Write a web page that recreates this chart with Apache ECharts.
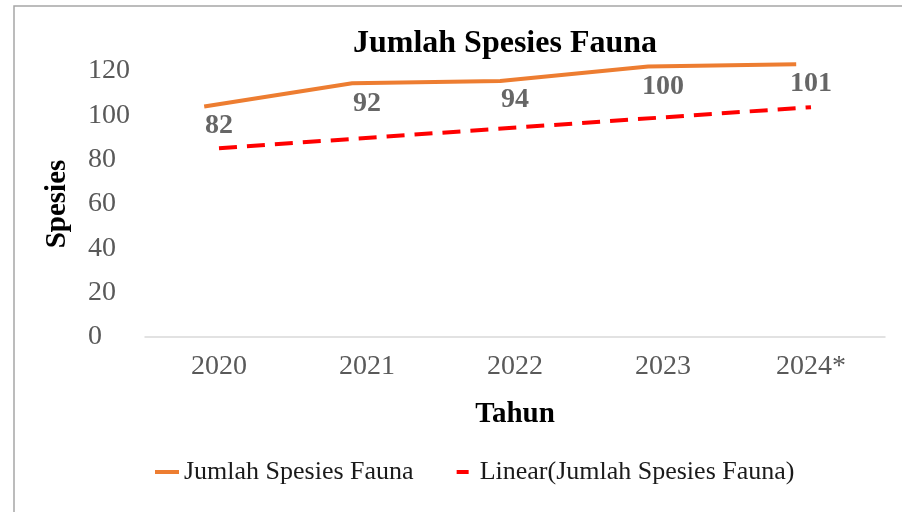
<!DOCTYPE html>
<html>
<head>
<meta charset="utf-8">
<script src="https://cdn.jsdelivr.net/npm/echarts@6/dist/echarts.min.js"></script>
<style>
  html, body { margin: 0; padding: 0; background: #fff; }
  #chart { width: 902px; height: 512px; }
</style>
</head>
<body>
<div id="chart"></div>
<script>
// tahun (kategori)
const years = ['2020', '2021', '2022', '2023', '2024*'];
// nilai yang ditulis sebagai label
const labelValues = [82, 92, 94, 100, 101];
// posisi garis oranye seperti tergambar (tergeser dari labelnya)
const drawnValues = [104, 114.5, 115.5, 122, 123];
// ujung garis tren linear (tahun pertama dan terakhir)
const trendEnds = [85.2, 103.7];
// sumbu Y
const yMin = 0, yMax = 120, yStep = 20;

const FONT = '"Liberation Serif", "Times New Roman", serif';
const NAME_MAIN = 'Jumlah Spesies Fauna';
const NAME_TREND = 'Linear(Jumlah Spesies Fauna)';

let chart = echarts.init(document.getElementById('chart'));

let option = {
  backgroundColor: '#fff',
  animation: false,
  textStyle: { fontFamily: FONT },
  title: {
    text: 'Jumlah Spesies Fauna',
    left: 500,
    textAlign: 'center',
    top: 23,
    textStyle: { fontFamily: FONT, fontSize: 32, fontWeight: 'bold', color: '#000' }
  },
  graphic: [{
    type: 'rect',
    shape: { x: 14, y: 6, width: 1000, height: 600 },
    style: { fill: 'none', stroke: '#a6a6a6', lineWidth: 1.5 },
    silent: true
  }],
  legend: {
    data: [
      { name: NAME_MAIN, icon: 'rect' },
      { name: NAME_TREND, icon: 'path://M0,0H12V4H0Z' }
    ],
    left: 155,
    top: 459,
    padding: 0,
    itemWidth: 24,
    itemHeight: 4,
    itemGap: 43,
    textStyle: { fontFamily: FONT, fontSize: 26, color: '#1a1a1a' }
  },
  grid: { left: 145, right: 17, top: 71, bottom: 175 },
  xAxis: [
    {
      type: 'category',
      data: years,
      name: 'Tahun',
      nameLocation: 'middle',
      nameGap: 63,
      nameTextStyle: { fontFamily: FONT, fontSize: 29, fontWeight: 'bold', color: '#000' },
      axisLine: { lineStyle: { color: '#d9d9d9', width: 1.5 } },
      axisTick: { show: false },
      axisLabel: { fontFamily: FONT, fontSize: 28, color: '#595959', margin: 16 }
    },
    // garis oranye tergeser sedikit ke kiri
    { type: 'value', min: -0.4, max: 4.6, show: false },
    // garis tren di tengah kategori
    { type: 'value', min: -0.5, max: 4.5, show: false }
  ],
  yAxis: {
    type: 'value',
    min: yMin,
    max: yMax,
    interval: yStep,
    name: 'Spesies',
    nameLocation: 'middle',
    nameGap: 73,
    nameTextStyle: { fontFamily: FONT, fontSize: 29, fontWeight: 'bold', color: '#000' },
    axisLine: { show: false },
    axisTick: { show: false },
    splitLine: { show: false },
    axisLabel: { fontFamily: FONT, fontSize: 28, color: '#595959', align: 'left', margin: 57 }
  },
  series: [
    {
      name: NAME_MAIN,
      type: 'line',
      xAxisIndex: 1,
      data: drawnValues.map((v, i) => [i, v]),
      symbol: 'none',
      clip: false,
      lineStyle: { color: '#ed7d31', width: 4 },
      itemStyle: { color: '#ed7d31' }
    },
    {
      name: NAME_TREND,
      type: 'line',
      xAxisIndex: 2,
      data: [[0, trendEnds[0]], [years.length - 1, trendEnds[1]]],
      symbol: 'none',
      lineStyle: { color: '#ff0000', width: 4, type: [18, 10] },
      itemStyle: { color: '#ff0000' }
    },
    {
      name: 'label',
      type: 'scatter',
      xAxisIndex: 0,
      data: labelValues,
      symbolSize: 1,
      itemStyle: { color: 'rgba(0,0,0,0)' },
      label: {
        show: true,
        position: 'inside',
        offset: [0, -29],
        fontFamily: FONT,
        fontSize: 28,
        fontWeight: 'bold',
        color: '#404040'
      }
    }
  ]
};

chart.setOption(option);
</script>
</body>
</html>
